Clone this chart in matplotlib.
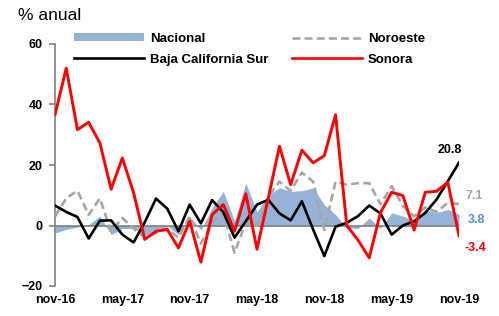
import numpy as np
import matplotlib
matplotlib.use("Agg")
import matplotlib.pyplot as plt
from matplotlib.patches import Patch
from matplotlib.lines import Line2D

# monthly series, nov-16 .. nov-19 (% anual)
months = ["nov-16", "dic-16", "ene-17", "feb-17", "mar-17", "abr-17", "may-17",
          "jun-17", "jul-17", "ago-17", "sep-17", "oct-17", "nov-17", "dic-17",
          "ene-18", "feb-18", "mar-18", "abr-18", "may-18", "jun-18", "jul-18",
          "ago-18", "sep-18", "oct-18", "nov-18", "dic-18", "ene-19", "feb-19",
          "mar-19", "abr-19", "may-19", "jun-19", "jul-19", "ago-19", "sep-19",
          "oct-19", "nov-19"]

nacional = [-2.5, -1.3, -0.5, 0.3, 3.1, -3.0, -1.0, -1.0, -3.0, -2.5, 0.0, -3.0,
            3.0, -1.5, 5.8, 11.3, 1.5, 14.0, 4.5, 10.0, 12.5, 11.3, 11.5, 12.4,
            6.9, 3.6, -0.8, -1.0, 2.5, -1.0, 4.2, 3.1, 1.4, 5.3, 4.2, 5.3, 3.8]

noroeste = [3.0, 9.0, 11.5, 3.5, 9.0, -2.0, 2.5, -1.0, -4.0, -2.5, -1.0, -4.0,
            3.0, -6.0, 1.0, 4.0, -9.0, 1.0, 0.0, 9.5, 14.5, 11.5, 17.5, 14.5,
            -1.5, 14.5, 13.5, 14.0, 14.0, 7.0, 13.0, 6.5, 3.0, 6.0, 4.5, 7.5, 7.1]

bcs = [6.6, 4.5, 2.8, -4.3, 1.6, 1.7, -3.0, -5.6, 1.1, 8.9, 5.6, -1.9,
       6.9, 0.7, 8.4, 4.4, -4.0, 1.4, 6.9, 8.5, 4.0, 1.7, 8.0, -1.3,
       -10.1, -0.4, 0.9, 3.1, 6.6, 4.0, -3.0, 0.0, 1.4, 4.2, 8.6, 14.6, 20.8]

sonora = [36.6, 52.0, 31.7, 34.1, 27.3, 12.0, 22.3, 10.9, -4.6, -1.9, -1.3, -7.4,
          1.4, -12.1, 3.6, 6.9, -1.9, 10.5, -7.8, 9.0, 26.2, 13.5, 24.9, 20.7,
          23.1, 36.6, 0.0, -4.8, -10.7, 4.2, 11.0, 9.9, -1.5, 11.0, 11.3, 14.3, -3.4]

tick_every = 6

BLUE = "#95B3D7"
GRAY = "#A6A6A6"
RED = "#FF0000"


def main():
    plt.rcParams["font.family"] = ["Liberation Sans", "DejaVu Sans"]

    fig = plt.figure(figsize=(4.99, 3.16), dpi=100)
    ax = fig.add_axes([55 / 499, 1 - 286 / 316, (459 - 55) / 499, (286 - 44) / 316])

    x = np.arange(len(months))

    ax.fill_between(x, 0, nacional, color=BLUE, lw=0, zorder=1)
    ax.axhline(0, color="#808080", lw=1.2, zorder=2)
    ax.plot(x, noroeste, color=GRAY, lw=1.9, ls=(0, (3, 1.6)), zorder=3)
    ax.plot(x, bcs, color="black", lw=1.9, zorder=4)
    ax.plot(x, sonora, color=RED, lw=2.1, zorder=5)

    ax.set_xlim(0, len(months) - 1)
    ax.set_ylim(-20, 60)
    ax.set_yticks([-20, 0, 20, 40, 60])
    ax.set_xticks(x[::tick_every])
    ax.set_xticklabels(months[::tick_every])

    for side in ["top", "right", "bottom"]:
        ax.spines[side].set_visible(False)
    ax.spines["left"].set_color("#808080")
    ax.spines["left"].set_linewidth(1.2)
    ax.tick_params(axis="y", direction="out", length=4, color="#808080", width=1.2,
                   labelsize=9, pad=5)
    ax.tick_params(axis="x", length=0, labelsize=9, pad=6)
    for lbl in ax.get_xticklabels() + ax.get_yticklabels():
        lbl.set_fontweight("bold")

    # end labels
    last = len(months) - 1
    ax.text(last - 1.9, bcs[-1] + 2.2, "20.8", fontsize=9, fontweight="bold",
            color="black", va="bottom", clip_on=False)
    ax.text(last + 0.6, noroeste[-1] + 2.7, "7.1", fontsize=9, fontweight="bold",
            color=GRAY, va="center", clip_on=False)
    ax.text(last + 0.8, nacional[-1] - 2.0, "3.8", fontsize=9, fontweight="bold",
            color="#558ED5", va="center", clip_on=False)
    ax.text(last + 0.5, sonora[-1] - 3.9, "-3.4", fontsize=9, fontweight="bold",
            color=RED, va="center", clip_on=False)

    handles = [Patch(facecolor=BLUE, edgecolor="none"),
               Line2D([], [], color="black", lw=1.9),
               Line2D([], [], color=GRAY, lw=1.9, ls=(0, (3, 1.6))),
               Line2D([], [], color=RED, lw=1.9)]
    labels = ["Nacional", "Baja California Sur", "Noroeste", "Sonora"]
    fig.legend(handles, labels, ncol=2, loc="upper left",
               bbox_to_anchor=(74 / 499, 1 - 33 / 316), frameon=False,
               prop={"size": 9.5, "weight": "bold"}, handlelength=5.3,
               handleheight=0.55, columnspacing=1.8, labelspacing=0.65,
               handletextpad=0.45, borderaxespad=0, borderpad=0)

    fig.text(18 / 499, 1 - 16 / 316, "% anual", fontsize=12.5, va="center", ha="left")

    fig.savefig("out.png", dpi=100)


if __name__ == '__main__':
    main()
